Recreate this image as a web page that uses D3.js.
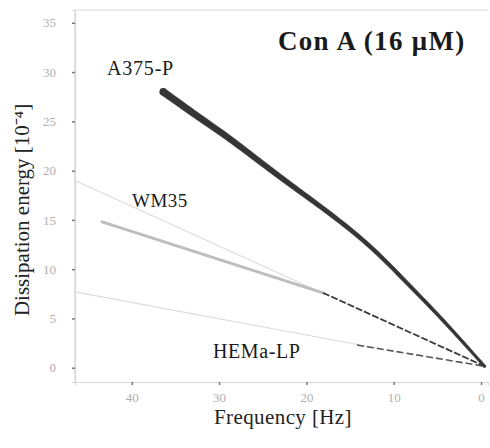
<!DOCTYPE html>
<html>
<head>
<meta charset="utf-8">
<script src="https://cdn.jsdelivr.net/npm/d3@7"></script>
<style>
  body { margin: 0; background: #fff; }
  svg { display: block; }
</style>
</head>
<body>
<svg id="chart" width="490" height="448"></svg>
<script>
// ticks
const xTicks = [40, 30, 20, 10, 0];
const yTicks = [0, 5, 10, 15, 20, 25, 30, 35];

// A375-P measured curve (thick, dark)
const a375Freq = [36.4, 34.5, 31.5, 28.8, 23.0, 17.3, 12.4, 8.5, 4.7, -0.4];
const a375Val  = [28.0, 26.8, 24.9, 23.3, 19.3, 15.7, 12.2, 8.6, 5.2, 0.15];

// WM35: faint fit, grey measured part, dark dashed part
const wmFitFreq = [46.5, 18.0];
const wmFitVal  = [19.0, 7.5];
const wmGreyFreq = [43.4, 18.1];
const wmGreyVal  = [14.8, 7.6];
const wmDashFreq = [18.1, -0.4];
const wmDashVal  = [7.6, 0.15];

// HEMa-LP: faint fit and dark dashed part
const hemFitFreq = [46.5, 12.0];
const hemFitVal  = [7.7, 2.0];
const hemDashFreq = [14.2, -0.4];
const hemDashVal  = [2.3, 0.15];

const svg = d3.select('#chart');
const mLeft = 75, mRight = 488, mTop = 10, mBottom = 382;
const SERIF = '"Liberation Serif", "Times New Roman", serif';

const x = d3.scaleLinear().domain([46.5, -0.8]).range([mLeft, mRight]);
const y = d3.scaleLinear().domain([-1.45, 36.3]).range([mBottom, mTop]);

const zip = (fs, vs) => fs.map((f, i) => [f, vs[i]]);
const line = d3.line().x(d => x(d[0])).y(d => y(d[1]));
const curve = d3.line().x(d => x(d[0])).y(d => y(d[1])).curve(d3.curveBasis);

// frame
svg.append('path')
  .attr('d', `M${mLeft},${mBottom}V${mTop}H${mRight}`)
  .attr('fill', 'none').attr('stroke', '#d8d8d8').attr('stroke-width', 1.2);

// axes
const yAxis = svg.append('g')
  .attr('transform', `translate(${mLeft},0)`)
  .call(d3.axisLeft(y).tickValues(yTicks).tickSize(3).tickPadding(16));
const xAxis = svg.append('g')
  .attr('transform', `translate(0,${mBottom})`)
  .call(d3.axisBottom(x).tickValues(xTicks).tickSize(3).tickPadding(8));

[xAxis, yAxis].forEach(a => {
  a.attr('font-family', SERIF);
  a.select('.domain').attr('stroke', '#d8d8d8').attr('stroke-width', 1.2);
  a.selectAll('.tick line').attr('stroke', '#777').attr('stroke-width', 1.5);
  a.selectAll('.tick text')
    .attr('fill', '#b0b0b0')
    .attr('font-size', 13);
});

// HEMa-LP
svg.append('path').attr('d', line(zip(hemFitFreq, hemFitVal)))
  .attr('fill', 'none').attr('stroke', '#dcdcdc').attr('stroke-width', 1.2);
svg.append('path').attr('d', line(zip(hemDashFreq, hemDashVal)))
  .attr('fill', 'none').attr('stroke', '#555').attr('stroke-width', 1.6)
  .attr('stroke-dasharray', '7,3');

// WM35
svg.append('path').attr('d', line(zip(wmFitFreq, wmFitVal)))
  .attr('fill', 'none').attr('stroke', '#dcdcdc').attr('stroke-width', 1.2);
svg.append('path').attr('d', line(zip(wmGreyFreq, wmGreyVal)))
  .attr('fill', 'none').attr('stroke', '#bdbdbd').attr('stroke-width', 3)
  .attr('stroke-linecap', 'round');
svg.append('path').attr('d', line(zip(wmDashFreq, wmDashVal)))
  .attr('fill', 'none').attr('stroke', '#3c3c3c').attr('stroke-width', 1.8)
  .attr('stroke-dasharray', '7,2');

// A375-P: sample the smooth curve, then build a tapering band around it
const guide = svg.append('path')
  .attr('d', curve(zip(a375Freq, a375Val)))
  .attr('fill', 'none').attr('stroke', 'none');
const node = guide.node();
const len = node.getTotalLength();
const steps = 120;
const pts = d3.range(steps + 1).map(i => node.getPointAtLength(len * i / steps));
const width = d3.scaleLinear().domain([0, 0.45, 1]).range([7, 4.6, 2.6]);
const sideA = [], sideB = [];
pts.forEach((p, i) => {
  const p0 = pts[Math.max(0, i - 1)], p1 = pts[Math.min(steps, i + 1)];
  const dx = p1.x - p0.x, dy = p1.y - p0.y, n = Math.hypot(dx, dy) || 1;
  const hw = width(i / steps) / 2;
  sideA.push([p.x - dy / n * hw, p.y + dx / n * hw]);
  sideB.push([p.x + dy / n * hw, p.y - dx / n * hw]);
});
guide.remove();
svg.append('path')
  .attr('d', d3.line()(sideA.concat(sideB.reverse())) + 'Z')
  .attr('fill', '#353535').attr('stroke', '#353535').attr('stroke-width', 0.6)
  .attr('stroke-linejoin', 'round');
// rounded ends
[[pts[0], width(0)], [pts[steps], width(1)]].forEach(([p, w]) => {
  svg.append('circle').attr('cx', p.x).attr('cy', p.y).attr('r', w / 2 + 0.3)
    .attr('fill', '#353535');
});

// labels
const label = (txt, lx, ly, size, weight) => svg.append('text')
  .attr('x', lx).attr('y', ly)
  .attr('font-family', SERIF)
  .attr('font-size', size).attr('font-weight', weight || 'normal')
  .attr('fill', '#1a1a1a').text(txt);

label('Con A (16 μM)', 278, 50, 27, 'bold').attr('letter-spacing', 1.3);
label('A375-P', 107, 75, 20).attr('letter-spacing', 0.8);
label('WM35', 132, 207, 19).attr('letter-spacing', 0.5);
label('HEMa-LP', 213, 358, 20).attr('letter-spacing', 0.6);

svg.append('text')
  .attr('x', 283).attr('y', 424)
  .attr('text-anchor', 'middle')
  .attr('font-family', SERIF)
  .attr('font-size', 21).attr('fill', '#222')
  .attr('letter-spacing', 0.4)
  .text('Frequency [Hz]');

svg.append('text')
  .attr('transform', 'translate(29,210) rotate(-90)')
  .attr('text-anchor', 'middle')
  .attr('font-family', SERIF)
  .attr('font-size', 21).attr('fill', '#222')
  .text('Dissipation energy  [10⁻⁴]');
</script>
</body>
</html>
